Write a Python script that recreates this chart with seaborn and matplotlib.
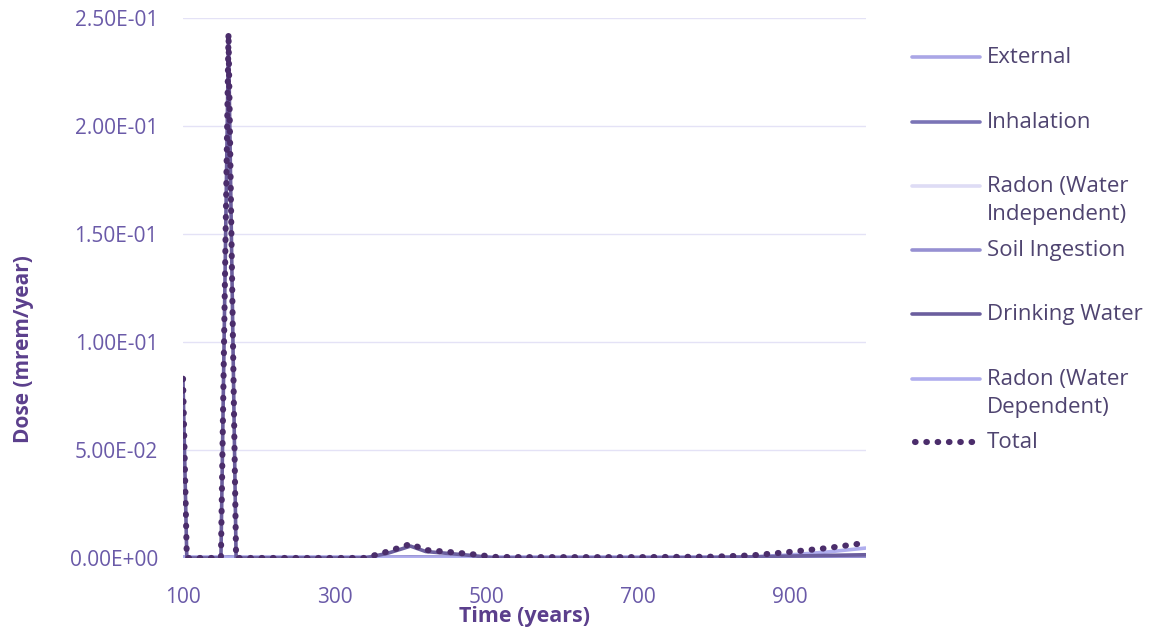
import seaborn as sns
import matplotlib.pyplot as plt
from matplotlib.lines import Line2D

# time points (years) and doses (mrem/year)
years = [100, 105, 150, 160, 170, 200, 250, 300, 340, 370, 400, 420, 450,
         480, 510, 550, 600, 700, 800, 850, 900, 950, 1000]
external = [0.0004, 0.0004, 0.0004, 0.0004, 0.0004, 0.0004, 0.0004, 0.0004,
            0.0004, 0.0004, 0.0004, 0.0004, 0.0004, 0.0004, 0.0004, 0.0004,
            0.0004, 0.0004, 0.0004, 0.0004, 0.0004, 0.0004, 0.0004]
inhalation = [0.0, 0.0, 0.0, 0.0, 0.0, 0.0, 0.0, 0.0, 0.0, 0.0, 0.0, 0.0, 0.0,
              0.0, 0.0, 0.0, 0.0, 0.0, 0.0, 0.0, 0.0, 0.0, 0.0]
radon_wi = [0.0, 0.0, 0.0, 0.0, 0.0, 0.0, 0.0, 0.0, 0.0, 0.0, 0.0, 0.0, 0.0,
            0.0, 0.0, 0.0, 0.0, 0.0, 0.0, 0.0, 0.0, 0.0, 0.0]
soil = [0.0003, 0.0001, 0.0001, 0.0005, 0.0001, 0.0001, 0.0001, 0.0001, 0.0001,
        0.0003, 0.0005, 0.0004, 0.0003, 0.0002, 0.0001, 0.0001, 0.0001, 0.0001,
        0.0001, 0.0002, 0.0003, 0.0004, 0.0005]
drinking = [0.0820, 0.0, 0.0, 0.2410, 0.0, 0.0, 0.0, 0.0, 0.0, 0.0022,
            0.0055, 0.0030, 0.0021, 0.0012, 0.0, 0.0, 0.0, 0.0, 0.0002,
            0.0005, 0.0009, 0.0012, 0.0015]
radon_wd = [0.0, 0.0, 0.0, 0.0, 0.0, 0.0, 0.0, 0.0, 0.0, 0.0, 0.0, 0.0, 0.0,
            0.0, 0.0, 0.0, 0.0, 0.0, 0.0001, 0.0005, 0.0014, 0.0028, 0.0046]
total = [0.0830, 0.0, 0.0, 0.2430, 0.0, 0.0, 0.0, 0.0, 0.0, 0.0030, 0.0065,
         0.0037, 0.0028, 0.0018, 0.0005, 0.0004, 0.0004, 0.0004, 0.0006,
         0.0012, 0.0028, 0.0046, 0.0070]

labels = ['External', 'Inhalation', 'Radon (Water\nIndependent)',
          'Soil Ingestion', 'Drinking Water', 'Radon (Water\nDependent)', 'Total']
colors = ['#aaa6e6', '#7b74b6', '#dedcf5', '#9690d2', '#6b5e9e', '#b0aeee', '#4b2d6b']
series = [external, inhalation, radon_wi, soil, drinking, radon_wd]

sns.set_theme(style='white')
plt.rcParams['font.family'] = ['Open Sans', 'DejaVu Sans']

dot_style = dict(linewidth=4.4, linestyle=(0, (0.1, 1.75)), dash_capstyle='round')

fig = plt.figure(figsize=(11.51, 6.31), dpi=100)
ax = fig.add_axes([0.159, 0.1157, 0.593, 0.8558])

# draw the solid components, lightest first
for i in [2, 1, 0, 3, 5, 4]:
    sns.lineplot(x=years, y=series[i], ax=ax, color=colors[i], linewidth=2.6)
sns.lineplot(x=years, y=total, ax=ax, color=colors[6], **dot_style)

ax.set_xlim(100, 1000)
ax.set_ylim(0, 0.25)
ax.set_xticks([100, 300, 500, 700, 900])
ax.set_yticks([0, 0.05, 0.10, 0.15, 0.20, 0.25])
ax.set_yticklabels(['0.00E+00', '5.00E-02', '1.00E-01', '1.50E-01', '2.00E-01', '2.50E-01'])
ax.tick_params(axis='x', pad=21, labelsize=15, colors='#6a5aa8', length=0)
ax.tick_params(axis='y', pad=18, labelsize=15, colors='#6a5aa8', length=0)
ax.grid(axis='y', color='#e4e2f6', linewidth=1)
ax.set_axisbelow(True)
for s in ax.spines.values():
    s.set_visible(False)

ax.set_xlabel('Time (years)', fontsize=15.5, fontweight='bold', color='#5b3f8c')
ax.set_ylabel('Dose (mrem/year)', fontsize=15, fontweight='bold', color='#5b3f8c')
ax.xaxis.set_label_coords(0.5, -0.088)
ax.yaxis.set_label_coords(-0.219, 0.387)

# legend drawn by hand so handles line up with the first text line
W, H = 1151, 631
legend_y = [57, 122, 186, 250, 314, 379, 442]
for k, (lab, col, yy) in enumerate(zip(labels, colors, legend_y)):
    fy = 1 - yy / H
    if k == 6:
        fig.add_artist(Line2D([915 / W, 975 / W], [fy, fy], color=col, **dot_style))
    else:
        fig.add_artist(Line2D([912 / W, 980 / W], [fy, fy], color=col, linewidth=2.6))
    fig.text(987 / W, fy + 10 / H, lab, fontsize=16, color='#4f4470',
             va='top', ha='left', linespacing=1.42)

fig.savefig('out.png', dpi=100)
